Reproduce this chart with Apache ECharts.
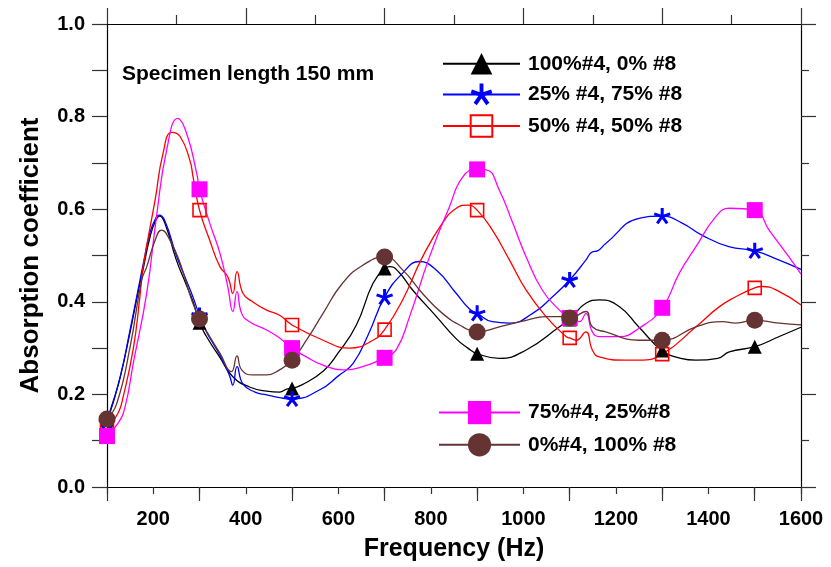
<!DOCTYPE html>
<html>
<head>
<meta charset="utf-8">
<script src="https://cdn.jsdelivr.net/npm/echarts@6/dist/echarts.min.js"></script>
<style>
html,body{margin:0;padding:0;background:#fff;}
#chart{width:831px;height:567px;}
</style>
</head>
<body>
<div id="chart"></div>
<script>
// ---------- DATA ----------
const markerFreqs = [100, 300, 500, 700, 900, 1100, 1300, 1500];
const seriesNames = ['100%#4, 0% #8', '25% #4, 75% #8', '50% #4, 50% #8', '75%#4, 25%#8', '0%#4, 100% #8'];
const xTickLabels = [200, 400, 600, 800, 1000, 1200, 1400, 1600];
const yTickLabels = [0.0, 0.2, 0.4, 0.6, 0.8, 1.0];

const blackFreq = [100,115,128,150,165,180,193,205,214,225,250,270,286,300,315,344,372,408,445,473,490,500,520,567,600,639,675,700,711,730,761,812,855,880,900,948,1006,1078,1100,1135,1164,1207,1250,1300,1340,1373,1420,1445,1500,1553,1600];
const blackVal  = [0.145,0.19,0.235,0.335,0.41,0.48,0.54,0.575,0.585,0.57,0.49,0.44,0.40,0.355,0.325,0.28,0.238,0.216,0.207,0.205,0.212,0.213,0.22,0.25,0.29,0.35,0.44,0.472,0.476,0.465,0.425,0.368,0.32,0.30,0.288,0.278,0.296,0.346,0.362,0.397,0.404,0.39,0.345,0.295,0.278,0.274,0.278,0.292,0.303,0.325,0.345];

const blueFreq = [100,128,150,165,180,193,205,213,225,250,270,286,300,315,344,365,372,381,394,420,445,473,500,560,600,632,665,700,739,775,811,855,883,900,933,970,1020,1063,1100,1135,1149,1160,1178,1250,1300,1343,1386,1444,1500,1553,1600];
const blueVal  = [0.14,0.235,0.34,0.415,0.49,0.55,0.58,0.587,0.575,0.50,0.45,0.41,0.37,0.335,0.285,0.24,0.22,0.26,0.222,0.205,0.199,0.193,0.19,0.21,0.24,0.267,0.33,0.41,0.462,0.487,0.469,0.418,0.385,0.375,0.357,0.354,0.375,0.411,0.447,0.49,0.508,0.51,0.526,0.58,0.585,0.57,0.544,0.519,0.51,0.49,0.47];

const redFreq = [100,124,135,157,171,178,204,221,240,258,279,286,300,322,344,361,372,381,394,415,445,473,500,567,624,675,700,739,782,825,855,880,900,933,970,1006,1049,1092,1100,1114,1135,1149,1164,1221,1250,1300,1373,1423,1459,1500,1516,1553,1600];
const redVal  = [0.125,0.16,0.195,0.30,0.41,0.475,0.62,0.72,0.766,0.757,0.706,0.67,0.598,0.533,0.476,0.454,0.418,0.465,0.418,0.40,0.382,0.371,0.35,0.317,0.30,0.317,0.34,0.404,0.497,0.57,0.602,0.609,0.598,0.555,0.49,0.425,0.368,0.325,0.322,0.317,0.335,0.296,0.281,0.274,0.274,0.287,0.346,0.389,0.411,0.43,0.433,0.422,0.393];

const magentaFreq = [100,124,139,157,186,207,229,253,272,294,300,322,344,361,372,381,391,408,445,473,500,531,567,609,653,700,725,754,797,840,869,900,920,948,977,1006,1041,1078,1100,1121,1135,1149,1164,1207,1250,1300,1337,1373,1416,1445,1500,1531,1574,1600];
const magentaVal  = [0.11,0.138,0.173,0.268,0.42,0.584,0.728,0.796,0.764,0.677,0.643,0.57,0.505,0.433,0.379,0.422,0.375,0.357,0.339,0.322,0.30,0.281,0.263,0.253,0.26,0.279,0.296,0.368,0.497,0.605,0.67,0.686,0.685,0.641,0.57,0.497,0.425,0.382,0.365,0.357,0.375,0.335,0.325,0.325,0.343,0.387,0.462,0.519,0.584,0.602,0.598,0.555,0.497,0.46];

const brownFreq = [100,121,150,175,186,204,218,236,258,283,300,322,344,369,381,391,415,445,473,500,531,567,609,653,700,739,782,825,869,900,948,1006,1049,1092,1100,1135,1149,1178,1250,1300,1373,1430,1459,1500,1553,1600];
const brownVal  = [0.147,0.18,0.303,0.447,0.476,0.533,0.555,0.533,0.484,0.404,0.363,0.325,0.289,0.249,0.283,0.253,0.242,0.242,0.253,0.274,0.317,0.375,0.44,0.479,0.497,0.469,0.418,0.375,0.346,0.335,0.346,0.36,0.368,0.368,0.365,0.379,0.346,0.335,0.317,0.317,0.346,0.357,0.354,0.36,0.354,0.35];

// ---------- STYLE / BUILD ----------
const FONT = 'Liberation Sans, Arial, sans-serif';

function asteriskPath() {
  const w = 0.36, s = -0.15, parts = [];
  for (let k = 0; k < 5; k++) {
    const a = (-90 + 72 * k) * Math.PI / 180;
    const dx = Math.cos(a), dy = Math.sin(a), nx = -dy, ny = dx;
    const pts = [
      [dx * s + nx * w / 2, dy * s + ny * w / 2],
      [dx + nx * w / 2, dy + ny * w / 2],
      [dx - nx * w / 2, dy - ny * w / 2],
      [dx * s - nx * w / 2, dy * s - ny * w / 2]
    ].map(p => (p[0] * 100).toFixed(2) + ' ' + (p[1] * 100).toFixed(2));
    parts.push('M' + pts[0] + ' L' + pts[1] + ' L' + pts[2] + ' L' + pts[3] + ' Z');
  }
  return 'path://' + parts.join(' ');
}

function buildData(freqs, vals) {
  return freqs.map((f, i) => {
    const item = { value: [f, vals[i]] };
    if (markerFreqs.indexOf(f) < 0) item.symbol = 'none';
    return item;
  });
}

const lineDefs = [
  { name: seriesNames[0], f: blackFreq, v: blackVal, color: '#000000', symbol: 'triangle', size: 14, fill: '#000000' },
  { name: seriesNames[1], f: blueFreq, v: blueVal, color: '#0000ff', symbol: asteriskPath(), size: 17, fill: '#0000ff', keep: true },
  { name: seriesNames[2], f: redFreq, v: redVal, color: '#ff0000', symbol: 'rect', size: 13, fill: 'rgba(255,255,255,0)', border: '#ff0000' },
  { name: seriesNames[3], f: magentaFreq, v: magentaVal, color: '#ff00ff', symbol: 'rect', size: 16, fill: '#ff00ff' },
  { name: seriesNames[4], f: brownFreq, v: brownVal, color: '#663333', symbol: 'circle', size: 17, fill: '#663333' }
];

const series = lineDefs.map(d => ({
  type: 'line',
  name: d.name,
  xAxisIndex: 0,
  yAxisIndex: 0,
  data: buildData(d.f, d.v),
  smooth: 0.5,
  symbol: d.symbol,
  symbolSize: d.size,
  symbolKeepAspect: !!d.keep,
  showSymbol: true,
  showAllSymbol: true,
  lineStyle: { color: d.color, width: 1.3 },
  itemStyle: d.border ? { color: d.fill, borderColor: d.border, borderWidth: 1.6 } : { color: d.fill, borderWidth: 0 },
  emphasis: { disabled: true },
  animation: false,
  z: 2
}));

const axisLineStyle = { color: '#000', width: 1.2 };
const tickStyle = { color: '#333', width: 1.2 };

const option = {
  backgroundColor: '#fff',
  animation: false,
  grid: { left: 107, right: 30, top: 24, bottom: 80 },
  xAxis: [
    {
      type: 'value', position: 'bottom', min: 100, max: 1600, interval: 100,
      axisLine: { show: true, onZero: false, lineStyle: axisLineStyle },
      axisTick: { show: true, length: 7, lineStyle: tickStyle },
      splitLine: { show: false },
      axisLabel: {
        margin: 22, color: '#000', fontFamily: FONT, fontWeight: 'bold', fontSize: 20,
        formatter: v => (xTickLabels.indexOf(v) >= 0 ? String(v) : '')
      },
      name: 'Frequency (Hz)', nameLocation: 'middle', nameGap: 50,
      nameTextStyle: { color: '#000', fontFamily: FONT, fontWeight: 'bold', fontSize: 25 }
    },
    {
      type: 'value', position: 'bottom', min: 100, max: 1600, interval: 200,
      axisLine: { show: false, onZero: false },
      axisTick: { show: true, length: 14, lineStyle: tickStyle },
      splitLine: { show: false }, axisLabel: { show: false }
    },
    {
      type: 'value', position: 'top', min: 0, max: 1500, interval: 300,
      axisLine: { show: true, onZero: false, lineStyle: axisLineStyle },
      axisTick: { show: true, length: 16, lineStyle: tickStyle },
      minorTick: { show: true, splitNumber: 2, length: 9, lineStyle: tickStyle },
      splitLine: { show: false }, minorSplitLine: { show: false }, axisLabel: { show: false }
    }
  ],
  yAxis: [
    {
      type: 'value', position: 'left', min: 0, max: 1, interval: 0.2,
      axisLine: { show: true, onZero: false, lineStyle: axisLineStyle },
      axisTick: { show: true, length: 15, lineStyle: tickStyle },
      minorTick: { show: true, splitNumber: 2, length: 15, lineStyle: tickStyle },
      splitLine: { show: false }, minorSplitLine: { show: false },
      axisLabel: {
        margin: 22, color: '#000', fontFamily: FONT, fontWeight: 'bold', fontSize: 20,
        formatter: v => {
          const hit = yTickLabels.find(t => Math.abs(t - v) < 1e-6);
          return hit === undefined ? '' : hit.toFixed(1);
        }
      },
      name: 'Absorption coefficient', nameLocation: 'middle', nameGap: 63, nameRotate: 90,
      nameTextStyle: { color: '#000', fontFamily: FONT, fontWeight: 'bold', fontSize: 26 }
    },
    {
      type: 'value', position: 'right', min: 0, max: 1, interval: 0.2,
      axisLine: { show: true, onZero: false, lineStyle: axisLineStyle },
      axisTick: { show: true, length: 15, lineStyle: tickStyle },
      minorTick: { show: true, splitNumber: 2, length: 8, lineStyle: tickStyle },
      splitLine: { show: false }, minorSplitLine: { show: false }, axisLabel: { show: false }
    }
  ],
  legend: [
    {
      data: seriesNames.slice(0, 3), orient: 'vertical', left: 437, top: 48,
      itemWidth: 77, itemHeight: 27, itemGap: 9, selectedMode: false,
      textStyle: { color: '#000', fontFamily: FONT, fontWeight: 'bold', fontSize: 21, padding: [0, 0, 0, 3] }
    },
    {
      data: seriesNames.slice(3), orient: 'vertical', left: 433, top: 396,
      itemWidth: 81, itemHeight: 29, itemGap: 9, selectedMode: false,
      textStyle: { color: '#000', fontFamily: FONT, fontWeight: 'bold', fontSize: 21, padding: [0, 0, 0, 3] }
    }
  ],
  graphic: [
    {
      type: 'text', left: 122, top: 64,
      style: { text: 'Specimen length 150 mm', fill: '#000', font: 'bold 21px ' + FONT }
    }
  ],
  series: series
};

const chart = echarts.init(document.getElementById('chart'), null, { renderer: 'canvas' });
chart.setOption(option);
</script>
</body>
</html>
